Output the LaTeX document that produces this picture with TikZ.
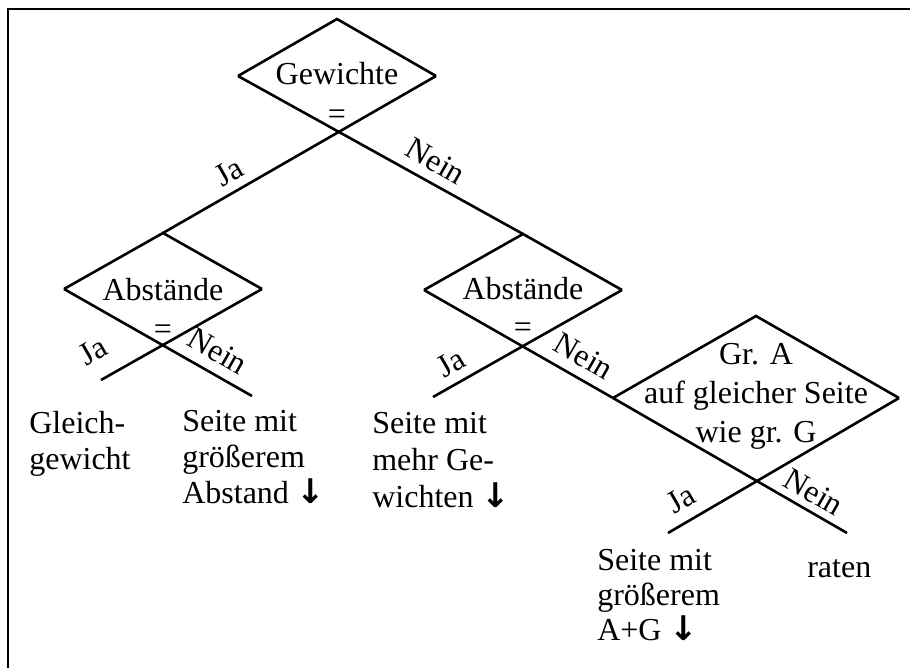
\documentclass[tikz,border=0pt]{standalone}
\usepackage{fontspec}
\setmainfont{Liberation Serif}
\newfontfamily\arrowfont{DejaVu Sans}
\newcommand{\darr}{{\arrowfont\bfseries\fontsize{34}{37}\selectfont ↓}}
\begin{document}
\begin{tikzpicture}[x=1pt,y=-1pt,line width=2.6pt,line cap=butt,line join=miter,
  txt/.style={inner sep=0pt,anchor=base,font=\fontsize{32}{37}\selectfont},
  lbl/.style={inner sep=0pt,anchor=center,font=\fontsize{32}{37}\selectfont},
  leaf/.style={inner sep=0pt,anchor=base west,font=\fontsize{32}{37}\selectfont}]
\useasboundingbox (0,0) rectangle (910,667);

% frame (only top and left edges fall inside the page)
\coordinate (fbl) at (8,672);
\coordinate (ftl) at (8,9);
\coordinate (ftr) at (915,9);
\draw (fbl) -- (ftl) -- (ftr);

% diamond vertices
\coordinate (Gl) at (238,76);  \coordinate (Gt) at (337,19);  \coordinate (Gr) at (436,76);
\coordinate (Ll) at (64,289);  \coordinate (Lt) at (163,233); \coordinate (Lr) at (262,289);
\coordinate (Ml) at (424,290); \coordinate (Mt) at (523,234); \coordinate (Mr) at (622,290);
\coordinate (Rl) at (613,398); \coordinate (Rt) at (756,316); \coordinate (Rr) at (899,398);

% branch ends
\coordinate (LJa) at (101,380);  \coordinate (LNein) at (252,396);
\coordinate (MJa) at (433,397);
\coordinate (RJa) at (668,533);  \coordinate (RNein) at (847,533);

% Gewichte
\draw (Gl) -- (Gt) -- (Gr);
\draw (Gl) -- (Mt);
\draw (Gr) -- (Lt);
% Abstände (left)
\draw (Ll) -- (Lt) -- (Lr);
\draw (Lr) -- (LJa);
\draw (Ll) -- (LNein);
% Abstände (middle)
\draw (Ml) -- (Mt) -- (Mr);
\draw (Mr) -- (MJa);
\draw (Ml) -- (Rl);
% Gr. A ...
\draw (Rl) -- (Rt) -- (Rr);
\draw (Rr) -- (RJa);
\draw (Rl) -- (RNein);

% diamond texts
\node[txt] (gw) at (337,84) {Gewichte};
\node[txt] (gweq) at (337,124) {=};
\node[txt] (la) at (163,300) {Abstände};
\node[txt] (laeq) at (163,339) {=};
\node[txt] (ma) at (523,299) {Abstände};
\node[txt] (maeq) at (523,337) {=};
\node[txt] (ra1) at (756,364) {Gr. A};
\node[txt] (ra2) at (756,403) {auf gleicher Seite};
\node[txt] (ra3) at (756,442) {wie gr. G};

% branch labels, set just above their lines
\node[lbl,rotate=30]  (gja)   at (229,172) {Ja};
\node[lbl,rotate=-30] (gnein) at (436,161) {Nein};
\node[lbl,rotate=30]  (lja)   at (93,351)  {Ja};
\node[lbl,rotate=-30] (lnein) at (218,351) {Nein};
\node[lbl,rotate=30]  (mja)   at (451,363) {Ja};
\node[lbl,rotate=-30] (mnein) at (584,356) {Nein};
\node[lbl,rotate=30]  (rja)   at (681,499) {Ja};
\node[lbl,rotate=-30] (rnein) at (814,492) {Nein};

% outcomes
\node[leaf] (o1a) at (28,433) {Gleich-};
\node[leaf] (o1b) at (28,469) {gewicht};
\node[leaf] (o2a) at (181,431) {Seite mit};
\node[leaf] (o2b) at (181,467) {größerem};
\node[leaf] (o2c) at (181,503) {Abstand \darr};
\node[leaf] (o3a) at (371,433) {Seite mit};
\node[leaf] (o3b) at (371,470) {mehr Ge-};
\node[leaf] (o3c) at (371,507) {wichten \darr};
\node[leaf] (o4a) at (596,570) {Seite mit};
\node[leaf] (o4b) at (596,605) {größerem};
\node[leaf] (o4c) at (596,640) {A+G \darr};
\node[leaf] (o5)  at (806,577) {raten};
\end{tikzpicture}
\end{document}
